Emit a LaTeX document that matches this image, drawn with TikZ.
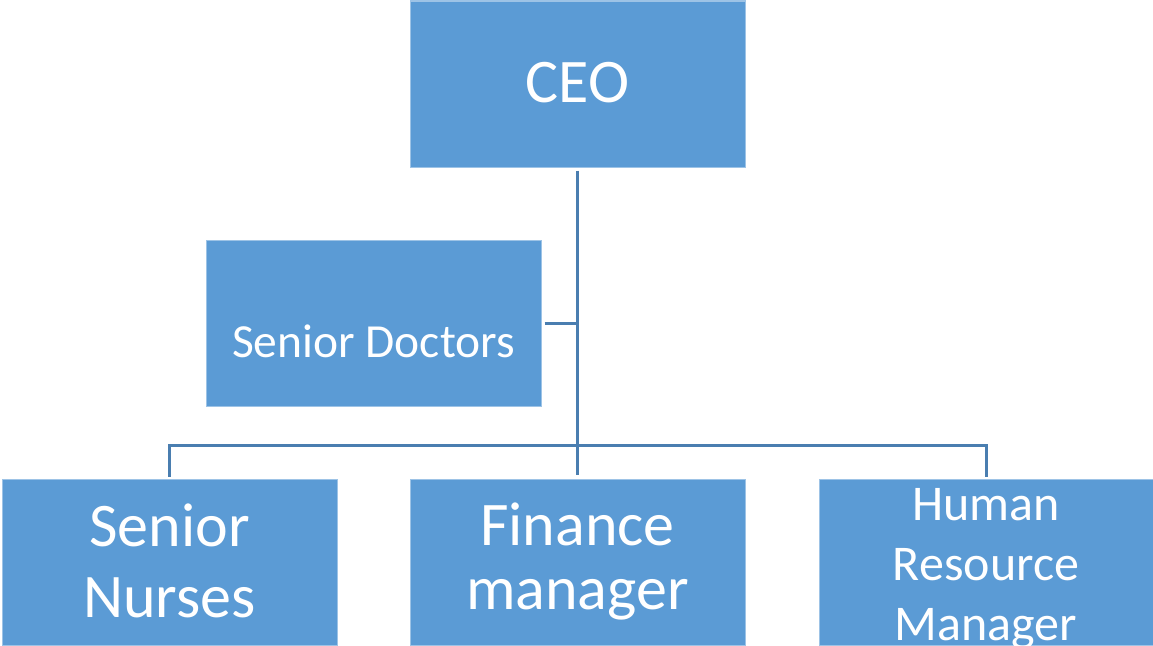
\documentclass[tikz,border=0pt]{standalone}
\usepackage{fontspec}
\setmainfont{Carlito}
\definecolor{boxfill}{HTML}{5B9BD5}
\definecolor{boxedge}{HTML}{9DC3E6}
\definecolor{linkcol}{HTML}{4A7EB0}
\tikzset{
  orgbox/.style={rectangle, fill=boxfill, draw=boxedge, line width=1pt, minimum width=335pt, minimum height=166pt, inner sep=0pt},
  boxtext/.style={text=white, inner sep=0pt, align=center},
  link/.style={draw=linkcol, line width=3pt}
}
\begin{document}
\begin{tikzpicture}[x=1pt,y=-1pt]
\useasboundingbox (0,0) rectangle (1153,645);
\begin{scope}
\clip (0,0) rectangle (1153,645);
\node[orgbox] (ceo) at (577.5,84) {};
\node[orgbox] (doc) at (373.5,323) {};
\node[orgbox] (nur) at (169.5,562) {};
\node[orgbox] (fin) at (577.5,562) {};
\node[orgbox, minimum width=334pt] (hr) at (986,562) {};
\end{scope}
\coordinate (bus) at (578,445);
% connectors
\draw[link, shorten <=3pt, shorten >=4pt] (ceo.south) -- (fin.north);
\draw[link, shorten <=3pt] (doc.east) -- (ceo.south |- doc.east);
\draw[link, shorten <=2pt, shorten >=2pt] (nur.north) -- (nur.north |- bus) -- (hr.north |- bus) -- (hr.north);
% texts (anchor=base is the baseline of the last line)
\node[boxtext, anchor=base, font=\fontsize{62}{71}\selectfont] (ceot) at (577.5,102) {CEO};
\node[boxtext, anchor=base, font=\fontsize{47.5}{54}\selectfont] (doct) at (373.5,357) {Senior Doctors};
\node[boxtext, anchor=base, font=\fontsize{62}{71}\selectfont] (nurt) at (169.5,617) {Senior\\Nurses};
\node[boxtext, anchor=base, font=\fontsize{62}{64}\selectfont] (fint) at (577.5,609) {Finance\\manager};
\node[boxtext, anchor=base, font=\fontsize{50}{60}\selectfont] (hrt) at (986,640) {Human\\Resource\\Manager};
\end{tikzpicture}
\end{document}
